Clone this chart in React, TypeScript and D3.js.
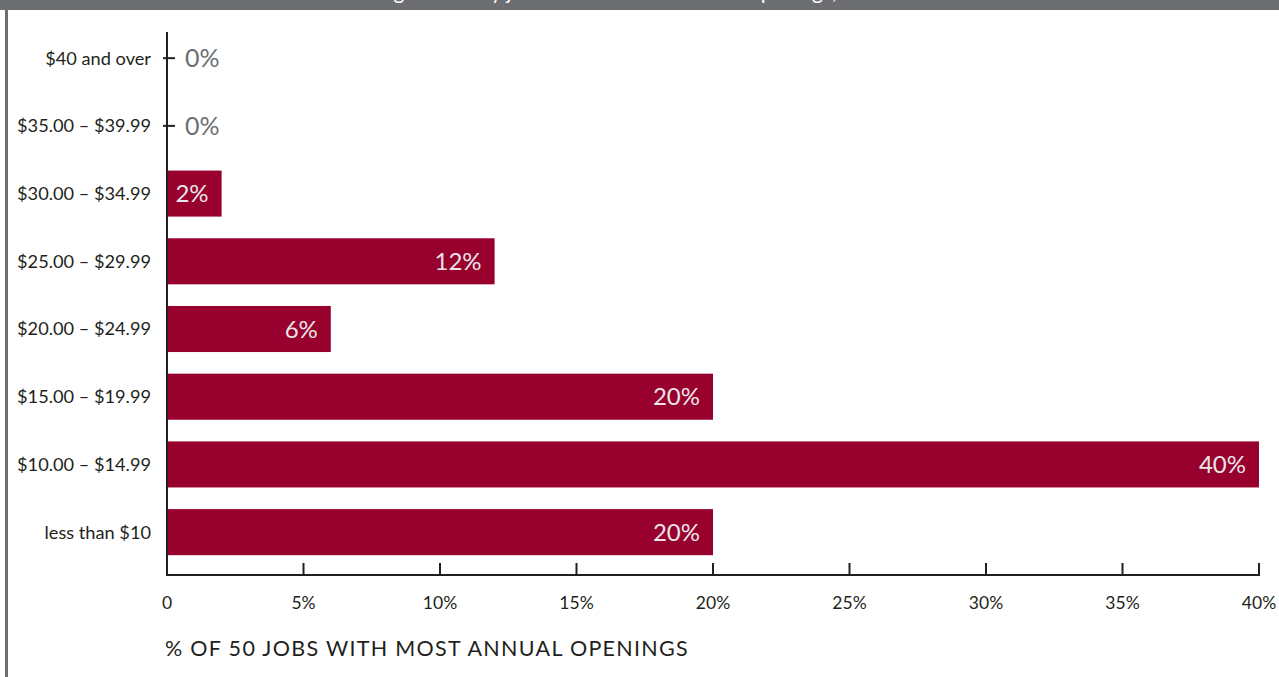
import React from "react";
import * as d3 from "d3";

const categories = [
  "$40 and over",
  "$35.00 – $39.99",
  "$30.00 – $34.99",
  "$25.00 – $29.99",
  "$20.00 – $24.99",
  "$15.00 – $19.99",
  "$10.00 – $14.99",
  "less than $10",
];
const values = [0, 0, 2, 12, 6, 20, 40, 20];
const xTicks = [0, 5, 10, 15, 20, 25, 30, 35, 40];
const titleText = "Earnings of hourly jobs with the most annual openings, 2012";
const axisTitle = "% OF 50 JOBS WITH MOST ANNUAL OPENINGS";

const W = 1279;
const H = 677;
const FONT = "Lato, 'Open Sans', sans-serif";
const BAR = "#98002e";
const GRAY = "#6d6e71";
const DARK = "#231f20";

export default function App() {
  const x = d3.scaleLinear().domain([0, 40]).range([167, 1259]);
  const y = d3
    .scaleBand<string>()
    .domain(categories)
    .range([24.3, 566])
    .paddingInner(0.32)
    .paddingOuter(0.16);
  const bw = y.bandwidth();
  const baseY = 575;

  return (
    <svg
      width={W}
      height={H}
      style={{ position: "absolute", left: 0, top: 0, background: "#fff" }}
      fontFamily={FONT}
    >
      {/* header bar */}
      <rect x={0} y={0} width={W} height={10} fill={GRAY} />
      <text x={335} y={-1.5} fontSize={21} fill="#ffffff">
        {titleText}
      </text>
      {/* left border */}
      <rect x={5} y={0} width={3} height={H} fill={GRAY} />

      {/* bars */}
      {categories.map((c, i) => {
        const v = values[i];
        const yy = y(c)!;
        const cy = yy + bw / 2;
        return (
          <g key={c}>
            {v > 0 && (
              <rect x={x(0)} y={yy} width={x(v) - x(0)} height={bw} fill={BAR} />
            )}
            {v === 0 && (
              <line x1={x(0) - 4} x2={x(0) + 8} y1={cy} y2={cy} stroke={DARK} strokeWidth={2} />
            )}
            {v > 0 ? (
              <text
                x={x(v) - 13}
                y={cy}
                dy="0.36em"
                textAnchor="end"
                fontSize={24}
                fill="#e8e6e6"
              >
                {v}%
              </text>
            ) : (
              <text x={x(0) + 18} y={cy} dy="0.36em" fontSize={25} fill={GRAY}>
                {v}%
              </text>
            )}
            <text
              x={151}
              y={cy}
              dy="0.35em"
              textAnchor="end"
              fontSize={18.2}
              fill={DARK}
            >
              {c}
            </text>
          </g>
        );
      })}

      {/* y axis line */}
      <line x1={x(0)} x2={x(0)} y1={32} y2={baseY + 1} stroke={DARK} strokeWidth={2} />
      {/* x axis */}
      <line x1={x(0) - 1} x2={x(40) + 1} y1={baseY} y2={baseY} stroke={DARK} strokeWidth={2} />
      {xTicks.map((t) => (
        <g key={t}>
          <line x1={x(t)} x2={x(t)} y1={baseY} y2={baseY - 12} stroke={DARK} strokeWidth={2} />
          <text x={x(t)} y={609} textAnchor="middle" fontSize={17.5} fill={DARK}>
            {t === 0 ? "0" : `${t}%`}
          </text>
        </g>
      ))}
      <text x={165} y={656} fontSize={21.5} fill={DARK} letterSpacing={1.3}>
        {axisTitle}
      </text>
    </svg>
  );
}
